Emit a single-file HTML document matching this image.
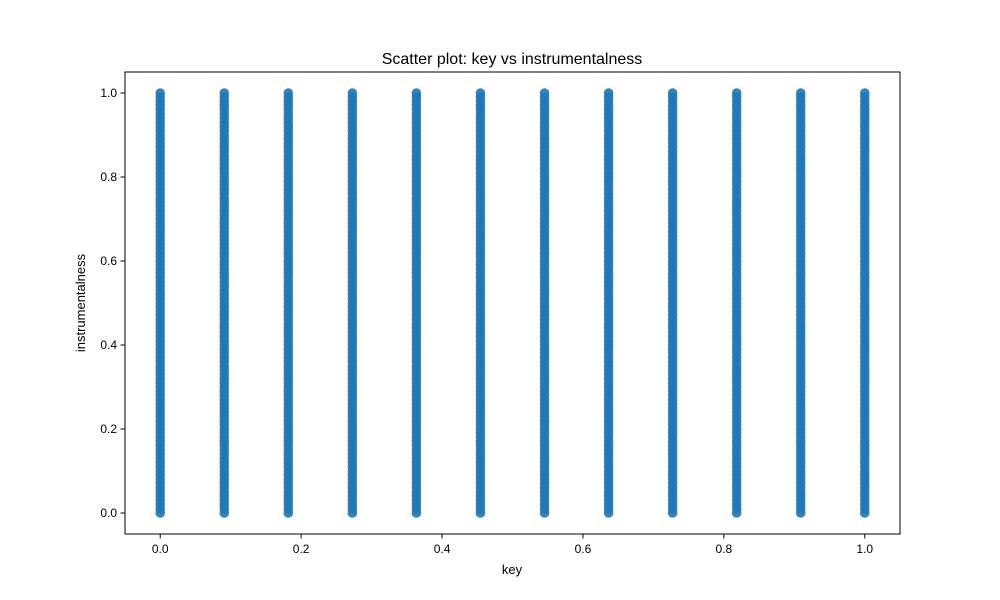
<!DOCTYPE html>
<html><head><meta charset="utf-8"><style>body{margin:0;background:#fff}svg{display:block;font-family:"Liberation Sans",sans-serif}</style></head>
<body>
<svg id="chart" width="1000" height="600">
<rect width="1000" height="600" fill="#fff"/>
<text x="512" y="64" font-size="16" text-anchor="middle">Scatter plot: key vs instrumentalness</text>
<g id="points"></g>
<rect x="125" y="72" width="775" height="462" fill="none" stroke="#000" stroke-width="1"/>
<g id="ticks"></g>
<text x="512" y="574" font-size="13" text-anchor="middle">key</text>
<text transform="translate(85,303) rotate(-90)" font-size="13" text-anchor="middle">instrumentalness</text>
</svg>
<script>
const keys=[0,0.0909,0.1818,0.2727,0.3636,0.4545,0.5455,0.6364,0.7273,0.8182,0.9091,1.0];
const instrValues=[0,0.01,0.02,0.03,0.04,0.05,0.06,0.07,0.08,0.09,0.1,0.11,0.12,0.13,0.14,0.15,0.16,0.17,0.18,0.19,0.2,0.21,0.22,0.23,0.24,0.25,0.26,0.27,0.28,0.29,0.3,0.31,0.32,0.33,0.34,0.35,0.36,0.37,0.38,0.39,0.4,0.41,0.42,0.43,0.44,0.45,0.46,0.47,0.48,0.49,0.5,0.51,0.52,0.53,0.54,0.55,0.56,0.57,0.58,0.59,0.6,0.61,0.62,0.63,0.64,0.65,0.66,0.67,0.68,0.69,0.7,0.71,0.72,0.73,0.74,0.75,0.76,0.77,0.78,0.79,0.8,0.81,0.82,0.83,0.84,0.85,0.86,0.87,0.88,0.89,0.9,0.91,0.92,0.93,0.94,0.95,0.96,0.97,0.98,0.99,1.0];
const xTicks=["0.0","0.2","0.4","0.6","0.8","1.0"];
const yTicks=["0.0","0.2","0.4","0.6","0.8","1.0"];
const NS="http://www.w3.org/2000/svg";
const x=v=>125+(v+0.05)/1.1*775;
const y=v=>534-(v+0.05)/1.1*462;
const pg=document.getElementById('points');
keys.forEach(k=>{instrValues.forEach(v=>{
  const c=document.createElementNS(NS,'circle');
  c.setAttribute('cx',x(k));c.setAttribute('cy',y(v));c.setAttribute('r',4.8);
  c.setAttribute('fill','#1f77b4');c.setAttribute('fill-opacity','0.9');
  
  
  pg.appendChild(c);});});
const tg=document.getElementById('ticks');
function add(tag,attrs,txt,name){const e=document.createElementNS(NS,tag);for(const a in attrs)e.setAttribute(a,attrs[a]);if(txt)e.textContent=txt;


tg.appendChild(e);}
xTicks.forEach(t=>{const px=x(parseFloat(t));
add('line',{x1:px,x2:px,y1:534,y2:538.5,stroke:'#000'},null,'x-tick');
add('text',{x:px,y:553,'font-size':12,'text-anchor':'middle'},t,'x-tick-label');});
yTicks.forEach(t=>{const py=y(parseFloat(t));
add('line',{x1:120.5,x2:125,y1:py,y2:py,stroke:'#000'},null,'y-tick');
add('text',{x:117,y:py+4,'font-size':12,'text-anchor':'end'},t,'y-tick-label');});
</script>
</body></html>
